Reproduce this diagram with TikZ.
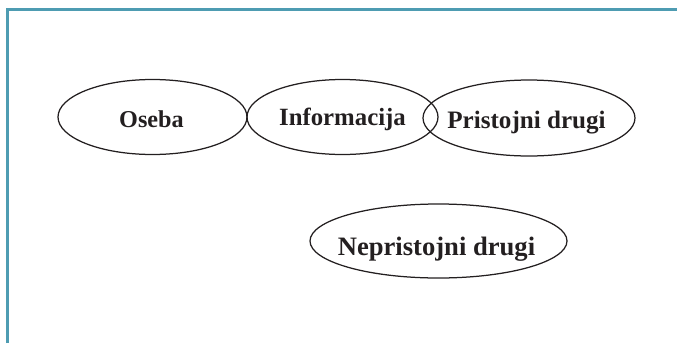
\documentclass[tikz,border=0pt]{standalone}
\usepackage{fontspec}
\setmainfont{Liberation Serif}
\usetikzlibrary{shapes.geometric}
\definecolor{frame}{HTML}{4E9CB2}
\definecolor{ink}{HTML}{231F20}
\begin{document}
\begin{tikzpicture}[x=1pt,y=-1pt,
  oval/.style={ellipse,draw=ink,line width=1.25pt,inner sep=0pt},
  lab/.style={anchor=base,inner sep=0pt,text=ink},
  framel/.style={draw=frame,line width=2.7pt}]
\useasboundingbox (0,0) rectangle (677,343);
\coordinate (fb) at (7.3,343);
\coordinate (fc) at (7.3,9.5);
\coordinate (fr) at (677,9.5);
\draw[framel] (fb) -- (fc) -- (fr);
\node[oval,minimum width=189pt,minimum height=75pt] (oseba) at (152.5,117) {};
\node[oval,minimum width=191pt,minimum height=75pt] (info) at (342.5,117) {};
\node[oval,minimum width=212pt,minimum height=76pt] (prist) at (529,118) {};
\node[oval,minimum width=257pt,minimum height=74pt] (nepr) at (438.5,241) {};
\node[lab,font=\fontsize{24.2}{28}\selectfont\bfseries] (toseba) at (151.5,127) {Oseba};
\node[lab,font=\fontsize{24.8}{28}\selectfont\bfseries] (tinfo) at (342.5,125) {Informacija};
\node[lab,font=\fontsize{25.1}{28}\selectfont\bfseries] (tprist) at (526.5,128) {Pristojni drugi};
\node[lab,font=\fontsize{26.6}{30}\selectfont\bfseries] (tnepr) at (436.5,255) {Nepristojni drugi};
\end{tikzpicture}
\end{document}
